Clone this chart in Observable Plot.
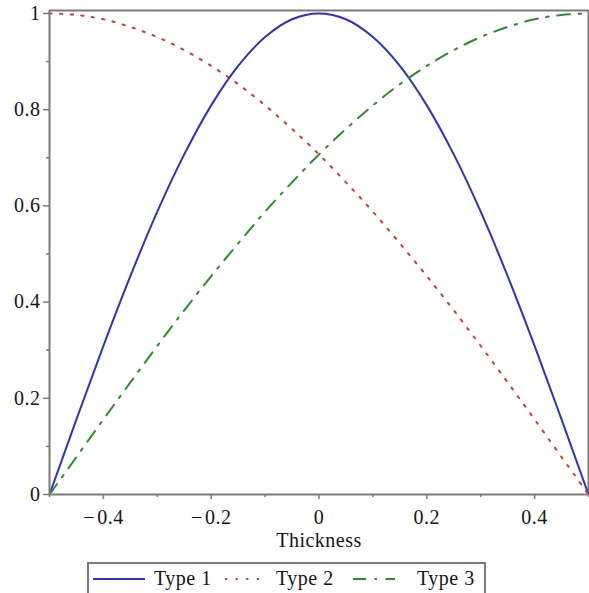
<!DOCTYPE html>
<html>
<head>
<meta charset="utf-8">
<script src="https://cdn.jsdelivr.net/npm/d3@7"></script>
<script src="https://cdn.jsdelivr.net/npm/@observablehq/plot@0.6"></script>
<style>
  html, body { margin: 0; padding: 0; background: #fff; }
  #wrap { position: relative; width: 589px; height: 593px; overflow: hidden; font-family: "Liberation Serif", "DejaVu Serif", serif; }
  #legend { position: absolute; left: 87px; top: 562px; }
  svg text { letter-spacing: 0.5px; }
</style>
</head>
<body>
<div id="wrap"><div id="chart"></div><div id="legend"></div></div>
<script>
// Thickness positions (x)
const thickness = [-0.5,-0.45,-0.4,-0.35,-0.3,-0.25,-0.2,-0.15,-0.1,-0.05,0,0.05,0.1,0.15,0.2,0.25,0.3,0.35,0.4,0.45,0.5];
// Series values
const type1 = [0,0.156,0.309,0.454,0.588,0.707,0.809,0.891,0.951,0.988,1,0.988,0.951,0.891,0.809,0.707,0.588,0.454,0.309,0.156,0];
const type2 = [1,0.997,0.988,0.972,0.951,0.924,0.891,0.853,0.809,0.760,0.707,0.649,0.588,0.522,0.454,0.383,0.309,0.233,0.156,0.078,0];
const type3 = [0,0.078,0.156,0.233,0.309,0.383,0.454,0.522,0.588,0.649,0.707,0.760,0.809,0.853,0.891,0.924,0.951,0.972,0.988,0.997,1];
const seriesNames = ["Type 1", "Type 2", "Type 3"];
const xTicks = [-0.4,-0.2,0,0.2,0.4];
const xMinorTicks = [-0.5,-0.3,-0.1,0.1,0.3,0.5];
const yTicks = [0,0.2,0.4,0.6,0.8,1];
const yMinorTicks = [0.1,0.3,0.5,0.7,0.9];

const colors = ["#3030c8", "#dd3333", "#2e8b2e"];
const dashes = [null, "2.2 8.4", "13 8.5 2.5 8.5"];
const allSeries = [type1, type2, type3];

const rows = allSeries.flatMap((vals, i) => vals.map((v, j) => ({x: thickness[j], y: v, s: seriesNames[i]})));

const fontFam = '"Liberation Serif", "DejaVu Serif", serif';
const axisColor = "#7a7a7a";
const textColor = "#151515";
const fmtX = d => d < 0 ? "\u2212" + "\u200a" + String(Math.abs(d)) : String(d);

const chart = Plot.plot({
  width: 589,
  height: 556,
  marginLeft: 49,
  marginRight: 1,
  marginTop: 10,
  marginBottom: 62,
  style: {fontFamily: fontFam, fontSize: "20px", color: textColor, background: "#fff"},
  x: {domain: [-0.5, 0.5]},
  y: {domain: [0, 1.0062]},
  marks: [
    Plot.ruleY([1.0062], {stroke: axisColor, strokeWidth: 2}),
    Plot.ruleX([0.5], {stroke: axisColor, strokeWidth: 2}),
    ...allSeries.map((vals, i) => Plot.line(rows.filter(r => r.s === seriesNames[i]), {
      x: "x", y: "y", curve: "catmull-rom",
      stroke: colors[i], strokeWidth: 2, strokeDasharray: dashes[i]
    })),
    Plot.axisX({ticks: xTicks, tickFormat: fmtX, tickSize: 5, tickPadding: 10, stroke: axisColor, strokeWidth: 1.5,
      label: "Thickness", labelAnchor: "center", labelArrow: "none", labelOffset: 52, fill: textColor}),
    Plot.axisX({ticks: xMinorTicks, tickFormat: null, tickSize: 3, stroke: axisColor, strokeWidth: 1.5, label: null, text: null}),
    Plot.axisY({ticks: yTicks, tickFormat: d => String(d), tickSize: 6, tickPadding: 3, stroke: axisColor, strokeWidth: 1.5, label: null, fill: textColor}),
    Plot.axisY({ticks: yMinorTicks, tickSize: 3, stroke: axisColor, strokeWidth: 1.5, label: null, text: null}),
    Plot.ruleX([-0.5], {stroke: axisColor, strokeWidth: 2}),
    Plot.ruleY([0], {stroke: axisColor, strokeWidth: 2})
  ]
});
document.getElementById("chart").appendChild(chart);

// Legend (HTML/SVG below the plot)
const lg = d3.select("#legend").append("svg").attr("width", 399).attr("height", 34)
  .style("font-family", fontFam).style("font-size", "20px");
lg.append("rect").attr("x", 1).attr("y", 1).attr("width", 397).attr("height", 40)
  .attr("fill", "#fff").attr("stroke", axisColor).attr("stroke-width", 2);
const sampleX = [[6, 58], [138, 176], [266, 308]];
const textX = [67, 189, 330];
seriesNames.forEach((name, i) => {
  lg.append("line").attr("x1", sampleX[i][0]).attr("x2", sampleX[i][1]).attr("y1", 17).attr("y2", 17)
    .attr("stroke", colors[i]).attr("stroke-width", 2).attr("stroke-dasharray", dashes[i]);
  lg.append("text").attr("x", textX[i]).attr("y", 23).attr("fill", textColor).text(name);
});
</script>
</body>
</html>
